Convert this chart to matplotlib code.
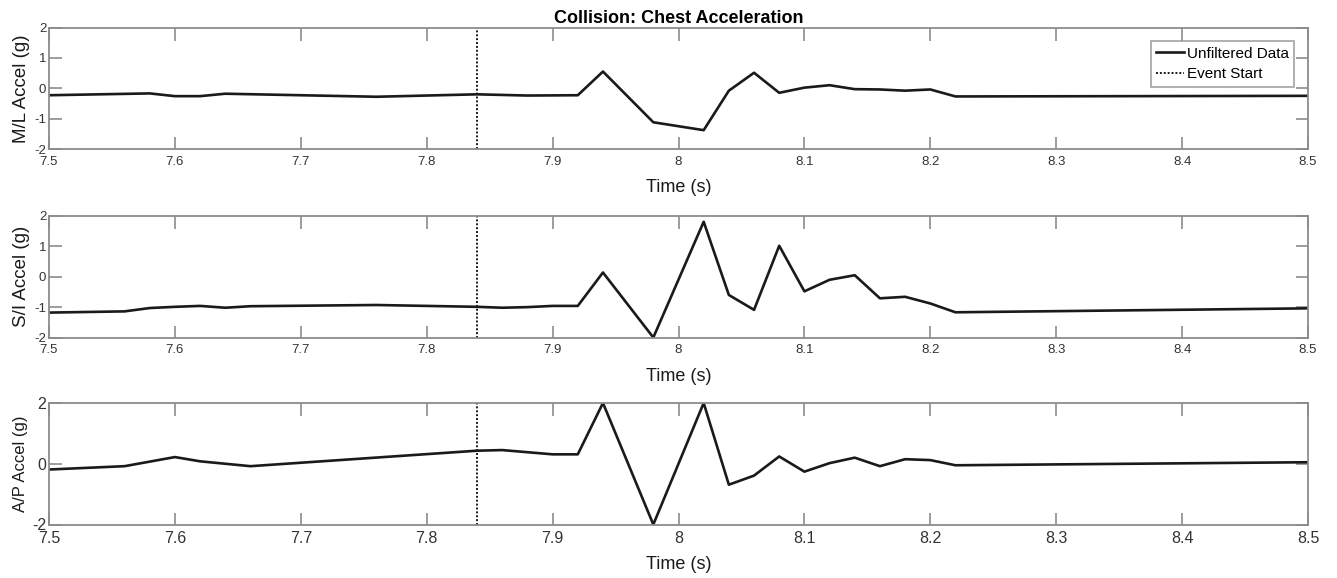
import numpy as np
import matplotlib
matplotlib.use('Agg')
import matplotlib.pyplot as plt

plt.rcParams['font.family'] = ['Liberation Sans', 'DejaVu Sans']

# chest acceleration samples (s, g)
t_ml = [7.5, 7.58, 7.6, 7.62, 7.64, 7.76, 7.84, 7.88, 7.92, 7.94, 7.98, 8.02, 8.04,
        8.06, 8.08, 8.1, 8.12, 8.14, 8.16, 8.18, 8.2, 8.22, 8.5]
ml = [-0.23, -0.17, -0.26, -0.26, -0.18, -0.28, -0.2, -0.24, -0.23, 0.55, -1.12, -1.38, -0.08,
      0.51, -0.15, 0.02, 0.1, -0.03, -0.04, -0.08, -0.04, -0.27, -0.25]

t_si = [7.5, 7.56, 7.58, 7.6, 7.62, 7.64, 7.66, 7.76, 7.84, 7.86, 7.88, 7.9, 7.92, 7.94,
        7.98, 8.02, 8.04, 8.06, 8.08, 8.1, 8.12, 8.14, 8.16, 8.18, 8.2, 8.22, 8.5]
si = [-1.18, -1.14, -1.03, -0.99, -0.96, -1.02, -0.97, -0.93, -0.99, -1.02, -1.0, -0.96, -0.96, 0.14,
      -2.0, 1.81, -0.6, -1.09, 1.02, -0.48, -0.1, 0.05, -0.71, -0.66, -0.88, -1.17, -1.04]

t_ap = [7.5, 7.56, 7.6, 7.62, 7.66, 7.84, 7.86, 7.9, 7.92, 7.94, 7.98, 8.02, 8.04,
        8.06, 8.08, 8.1, 8.12, 8.14, 8.16, 8.18, 8.2, 8.22, 8.5]
ap = [-0.19, -0.08, 0.22, 0.08, -0.08, 0.43, 0.45, 0.31, 0.31, 2.0, -2.0, 2.0, -0.69,
      -0.39, 0.24, -0.26, 0.02, 0.2, -0.08, 0.15, 0.12, -0.05, 0.05]

event_start = 7.84
xticks = [7.5, 7.6, 7.7, 7.8, 7.9, 8.0, 8.1, 8.2, 8.3, 8.4, 8.5]
xticklabels = ['7.5', '7.6', '7.7', '7.8', '7.9', '8', '8.1', '8.2', '8.3', '8.4', '8.5']

# (time, values, ylabel, yticks, tick font size, ylabel font size)
panels = [
    (t_ml, ml, 'M/L Accel (g)', [-2, -1, 0, 1, 2], 9.5, 13.5),
    (t_si, si, 'S/I Accel (g)', [-2, -1, 0, 1, 2], 9.5, 13.5),
    (t_ap, ap, 'A/P Accel (g)', [-2, 0, 2], 11.5, 12),
]

W, H = 1337, 578
fig = plt.figure(figsize=(W / 100, H / 100), dpi=100, facecolor='white')

left, right = 49, 1308
tops = [27.5, 216, 403]
ax_h = 121.5
edge = '#8c8c8c'

for i, (t, y, lab, yt, tfs, lfs) in enumerate(panels):
    ax = fig.add_axes([left / W, 1 - (tops[i] + ax_h) / H, (right - left) / W, ax_h / H])
    ax.plot(t, y, color='#1a1a1a', lw=1.9, label='Unfiltered Data')
    ax.axvline(event_start, color='#1a1a1a', lw=1.4, ls=(0, (1, 1)), label='Event Start')
    ax.set_xlim(7.5, 8.5)
    ax.set_ylim(-2, 2)
    ax.set_xticks(xticks)
    ax.set_xticklabels(xticklabels)
    ax.set_yticks(yt)
    ax.set_yticklabels([str(v) for v in yt])
    ax.tick_params(direction='in', length=9, width=1.2, color=edge, top=True, right=True,
                   labelsize=tfs, labelcolor='#333333')
    ax.tick_params(axis='x', pad=5)
    ax.tick_params(axis='y', pad=2)
    for s in ax.spines.values():
        s.set_color(edge)
        s.set_linewidth(1.3)
    ax.set_xlabel('Time (s)', fontsize=13, color='#1a1a1a', labelpad=8 if i < 2 else 7)
    ax.set_ylabel(lab, fontsize=lfs, color='#1a1a1a', labelpad=3)
    if i == 0:
        ax.set_title('Collision: Chest Acceleration', fontsize=13, fontweight='bold', pad=3)
        leg = ax.legend(loc='upper right', fontsize=11, frameon=True, fancybox=False,
                        edgecolor=edge, handlelength=1.8, handletextpad=0.2,
                        borderpad=0.35, labelspacing=0.45, borderaxespad=0.9)
        leg.get_frame().set_linewidth(1.2)

fig.savefig('out.png', dpi=100, facecolor='white')
